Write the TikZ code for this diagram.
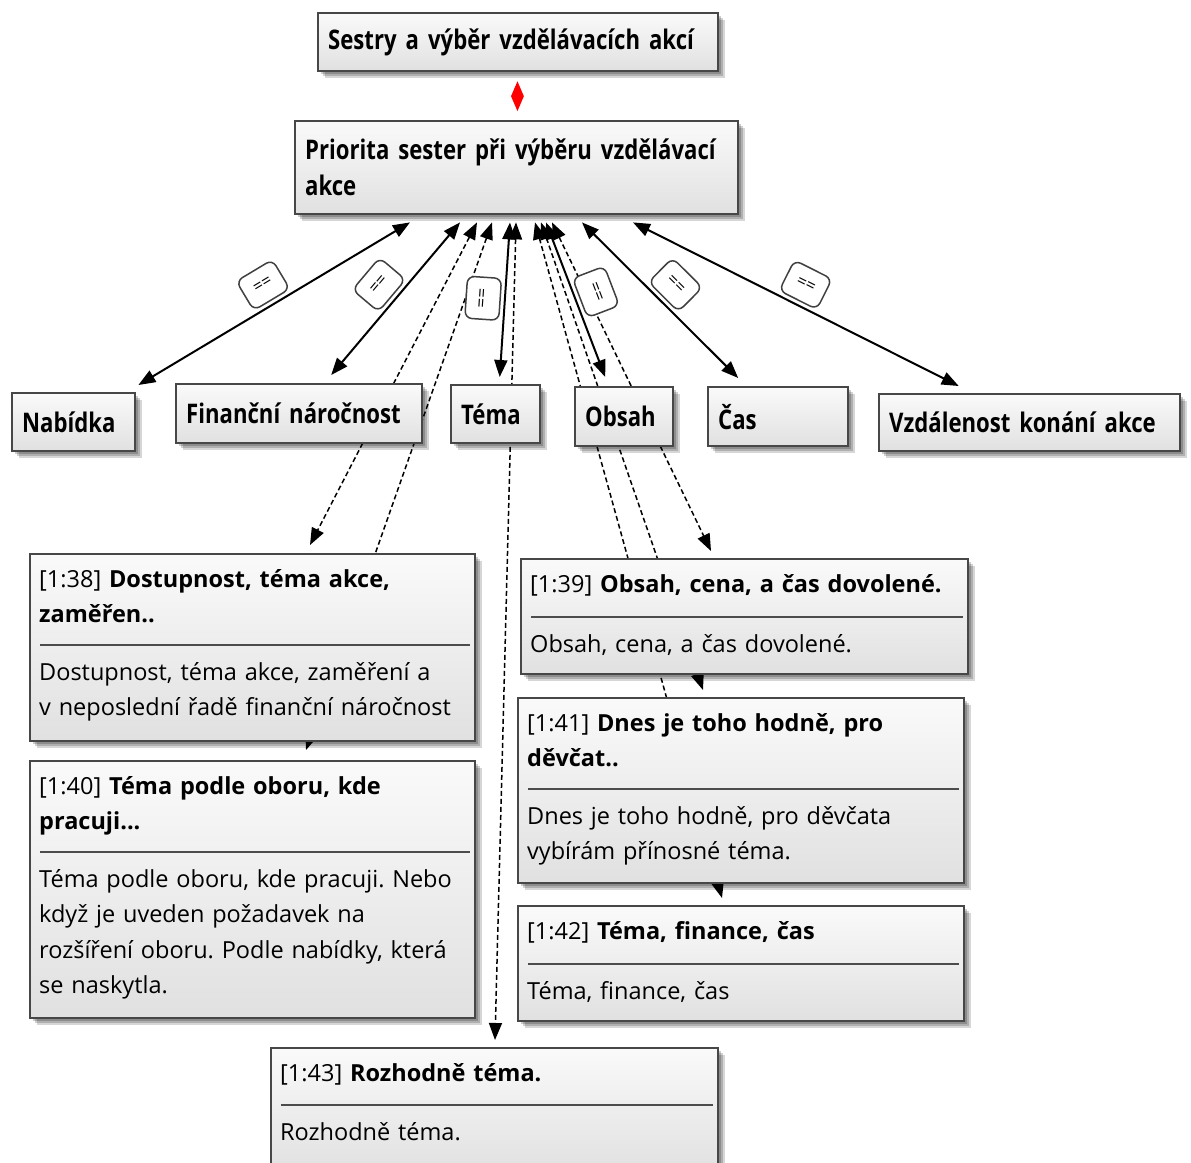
\documentclass[tikz,border=0pt]{standalone}
\usepackage{fontspec}
\setmainfont{Open Sans}
\newfontfamily\codefont{Open Sans}[FakeStretch=0.82, WordSpace=0.75]
\usetikzlibrary{arrows.meta,shapes.geometric,shadows}
\pgfdeclarelayer{bg}
\pgfdeclarelayer{edges}
\pgfsetlayers{bg,edges,main}
\frenchspacing

\tikzset{
  softshadow/.style={
    general shadow={fill=black, opacity=0.16, shadow xshift=6.5pt, shadow yshift=-6.5pt},
    general shadow={fill=black, opacity=0.18, shadow xshift=5pt, shadow yshift=-5pt},
    general shadow={fill=black, opacity=0.20, shadow xshift=3pt, shadow yshift=-3pt}},
  boxbase/.style={softshadow, draw=black!72, line width=2.4pt,
    top color=white!98!black, bottom color=white!88!black},
  code/.style={boxbase, anchor=north west, inner xsep=10pt, inner ysep=4pt, align=left,
    execute at begin node={\hyphenpenalty=10000},
    font=\codefont\fontsize{27}{36}\selectfont\bfseries},
  quote/.style={boxbase, anchor=north west, inner sep=0pt},
  qtext/.style={anchor=base west, inner sep=0pt, align=left, text width=430pt,
    font=\fontsize{23.5}{35.5}\selectfont},
  qsep/.style={draw=black!70, line width=1.8pt},
  rel/.style={line width=2pt, {Triangle[length=17pt,width=13pt]}-{Triangle[length=17pt,width=13pt]}},
  link/.style={line width=1.5pt, dash pattern=on 5pt off 3pt,
    {Triangle[length=17pt,width=13pt]}-{Triangle[length=17pt,width=13pt]}},
  lbl/.style={draw=black!75, line width=1.5pt, fill=white, rounded corners=7pt,
    minimum width=42pt, minimum height=34pt, inner sep=1pt,
    font=\fontsize{17}{17}\selectfont, sloped, above=4pt, pos=0.5},
  reddiamond/.style={diamond, fill=red, minimum width=13pt, minimum height=30pt, inner sep=0pt},
}

% quotation box: name, position, width, height, separator offset, header, body
\newcommand\qbox[7]{%
  \node[quote, minimum width=#3, minimum height=#4] (#1) at #2 {};
  \node[qtext] (#1-head) at ([shift={(10,34)}]#1.north west) {#6};
  \draw[qsep] ([shift={(11,#5)}]#1.north west) -- ([shift={(-6,#5)}]#1.north east);
  \node[qtext] (#1-body) at ([shift={(10,#5+35)}]#1.north west) {#7};
}

\begin{document}
\begin{tikzpicture}[x=1pt,y=-1pt]
\useasboundingbox (0,0) rectangle (1191,1162);
\begin{pgfonlayer}{bg}
  \fill[white] (0,0) rectangle (1191,1162);
\end{pgfonlayer}

% codes
\node[code, minimum width=400, minimum height=58, text width=380pt] (sestry) at (317,12) {Sestry a výběr vzdělávacích akcí};
\node[code, minimum width=443, minimum height=93, text width=423pt] (prio) at (294,120) {Priorita sester při výběru vzdělávací\\akce};
\node[code, minimum width=123, minimum height=58, text width=103pt] (nab) at (11,392) {Nabídka};
\node[code, minimum width=246, minimum height=59, text width=226pt] (fin) at (175,383) {Finanční náročnost};
\node[code, minimum width=89, minimum height=58, text width=69pt] (tema) at (450,384) {Téma};
\node[code, minimum width=98, minimum height=59, text width=78pt] (obsah) at (574,386) {Obsah};
\node[code, minimum width=140, minimum height=59, text width=120pt] (cas) at (707,386) {Čas};
\node[code, minimum width=301, minimum height=57, text width=281pt] (vzd) at (878,393) {Vzdálenost konání akce};

\path (sestry.south) -- node[reddiamond] (sestry-prio) {} (prio.north);

% quotations
\qbox{q38}{(29,553)}{445}{187}{92}
  {[1:38] \textbf{Dostupnost, téma akce,}\\\textbf{zaměřen..}}
  {Dostupnost, téma akce, zaměření a\\v neposlední řadě finanční náročnost}
\qbox{q40}{(29,760)}{445}{257}{92}
  {[1:40] \textbf{Téma podle oboru, kde}\\\textbf{pracuji...}}
  {Téma podle oboru, kde pracuji. Nebo\\když je uveden požadavek na\\rozšíření oboru. Podle nabídky, která\\se naskytla.}
\qbox{q39}{(520,558)}{447}{115}{59}
  {[1:39] \textbf{Obsah, cena, a čas dovolené.}}
  {Obsah, cena, a čas dovolené.}
\qbox{q41}{(517,697)}{446}{185}{92}
  {[1:41] \textbf{Dnes je toho hodně, pro}\\\textbf{děvčat..}}
  {Dnes je toho hodně, pro děvčata\\vybírám přínosné téma.}
\qbox{q42}{(517,905)}{446}{115}{59}
  {[1:42] \textbf{Téma, finance, čas}}
  {Téma, finance, čas}
\qbox{q43}{(270,1047)}{447}{125}{58}
  {[1:43] \textbf{Rozhodně téma.}}
  {Rozhodně téma.}

\begin{pgfonlayer}{edges}
  % quotation links
  \draw[link] ([shift={(183,7)}]prio.south west) -- ([shift={(281,-8)}]q38.north west);
  \draw[link] ([shift={(198,7)}]prio.south west) -- ([shift={(277,-10)}]q40.north west);
  \draw[link] ([shift={(222,7)}]prio.south west) -- ([shift={(225,-7)}]q43.north west);
  \draw[link] ([shift={(241,7)}]prio.south west) -- ([shift={(205,-7)}]q42.north west);
  \draw[link] ([shift={(247,7)}]prio.south west) -- ([shift={(186,-7)}]q41.north west);
  \draw[link] ([shift={(258,7)}]prio.south west) -- ([shift={(191,-7)}]q39.north west);
  % code relations
  \draw[rel] ([shift={(116,7)}]prio.south west) -- node[lbl] (r-nab) {==} ([shift={(2,-7)}]nab.north east);
  \draw[rel] ([shift={(166,7)}]prio.south west) -- node[lbl] (r-fin) {==} ([shift={(32,-8)}]fin.north);
  \draw[rel] ([shift={(216,7)}]prio.south west) -- node[lbl] (r-tema) {==} ([shift={(4,-7)}]tema.north);
  \draw[rel] ([shift={(252,7)}]prio.south west) -- node[lbl] (r-obsah) {==} ([shift={(-19,-9)}]obsah.north);
  \draw[rel] ([shift={(288,7)}]prio.south west) -- node[lbl] (r-cas) {==} ([shift={(-40,-8)}]cas.north);
  \draw[rel] ([shift={(339,7)}]prio.south west) -- node[lbl] (r-vzd) {==} ([shift={(-71,-7)}]vzd.north);
\end{pgfonlayer}
\end{tikzpicture}
\end{document}
